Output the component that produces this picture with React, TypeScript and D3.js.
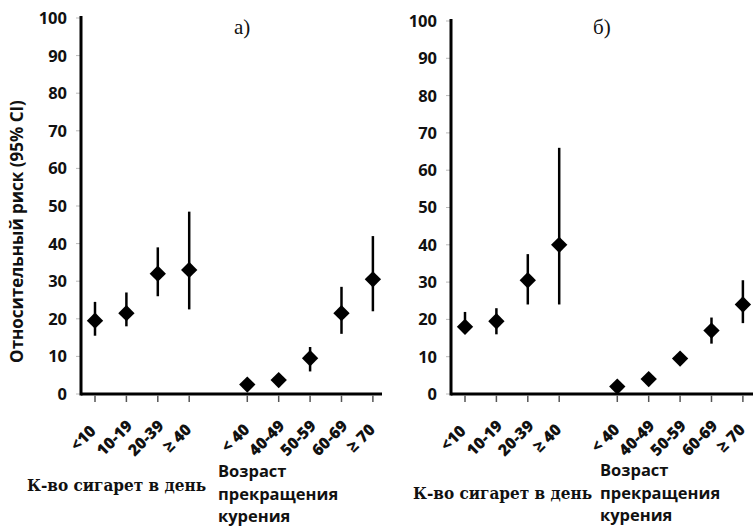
import React from 'react';
import * as d3 from 'd3';

// categories
const cigCats = ['<10', '10-19', '20-39', '≥ 40'];
const ageCats = ['< 40', '40-49', '50-59', '60-69', '≥ 70'];
const yTicks = [0, 10, 20, 30, 40, 50, 60, 70, 80, 90, 100];

// panel а)
const cigRiskA = [19.5, 21.5, 32, 33];
const cigLowA = [15.5, 18, 26, 22.5];
const cigHighA = [24.5, 27, 39, 48.5];
const ageRiskA = [2.5, 3.7, 9.5, 21.5, 30.5];
const ageLowA = [2, 3, 6, 16, 22];
const ageHighA = [3, 4.5, 12.5, 28.5, 42];

// panel б)
const cigRiskB = [18, 19.5, 30.5, 40];
const cigLowB = [16.5, 16, 24, 24];
const cigHighB = [22, 23, 37.5, 66];
const ageRiskB = [2, 4, 9.5, 17, 24];
const ageLowB = [1.5, 3.5, 8.5, 13.5, 19];
const ageHighB = [2.5, 4.5, 10.5, 20.5, 30.5];

const GAP = 1.85; // slot distance between the two groups

interface PanelProps {
  left: number;
  right: number;
  top: number;
  label: string;
  labelX: number;
  showTitle?: boolean;
  cigRisk: number[];
  cigLow: number[];
  cigHigh: number[];
  ageRisk: number[];
  ageLow: number[];
  ageHigh: number[];
  cigTitleX: number;
  cigTitleY: number;
  ageTitleX: number;
  ageTitleY: number;
}

const sans = '"Open Sans", sans-serif';
const serif = '"Liberation Serif", serif';
const boldSerif = '"DejaVu Serif Condensed", "DejaVu Serif", serif';

function Panel(p: PanelProps) {
  const bottom = 394;
  const y = d3.scaleLinear().domain([0, 100]).range([bottom, p.top]);
  const lastIdx = cigCats.length - 1 + GAP + ageCats.length - 1;
  const x = d3.scaleLinear().domain([0, lastIdx]).range([p.left + 14, p.left + 14 + 31.4 * lastIdx]);

  const points = [
    ...cigCats.map((c, i) => ({ cat: c, pos: i, v: p.cigRisk[i], lo: p.cigLow[i], hi: p.cigHigh[i] })),
    ...ageCats.map((c, i) => ({ cat: c, pos: cigCats.length - 1 + GAP + i, v: p.ageRisk[i], lo: p.ageLow[i], hi: p.ageHigh[i] })),
  ];
  const diamond = d3.symbol().type(d3.symbolDiamond2).size(170)();

  return (
    <g>
      {/* y axis */}
      {yTicks.map(t => (
        <g key={t}>
          <line x1={p.left - 5} x2={p.left} y1={y(t)} y2={y(t)} stroke="#bbb" strokeWidth={1} />
          <text x={p.left - 14} y={y(t)} dy="0.36em" textAnchor="end" fontFamily={sans} fontWeight={700} fontSize={16.5} fill="#111">{t}</text>
        </g>
      ))}
      <line x1={p.left} x2={p.left} y1={y(100) - 2} y2={bottom + 1.5} stroke="#000" strokeWidth={3} />
      {/* x axis */}
      <line x1={p.left} x2={p.right} y1={bottom} y2={bottom} stroke="#000" strokeWidth={3} />
      {points.map(d => (
        <g key={d.cat + d.pos}>
          <line x1={x(d.pos)} x2={x(d.pos)} y1={bottom + 1.5} y2={bottom + 8} stroke="#555" strokeWidth={1.5} />
          <g transform={`translate(${x(d.pos) - 12},438)`}>
            <text
              transform="rotate(-45)"
              textAnchor="middle" dy="0.35em"
              fontFamily={sans} fontWeight={800} fontSize={16} fill="#111"
            >{d.cat}</text>
          </g>
        </g>
      ))}
      {/* CI bars and points */}
      {points.map(d => (
        <g key={'p' + d.cat + d.pos}>
          <line x1={x(d.pos)} x2={x(d.pos)} y1={y(d.hi)} y2={y(d.lo)} stroke="#000" strokeWidth={2.5} />
          <path d={diamond} transform={`translate(${x(d.pos)},${y(d.v)})`} fill="#000" />
        </g>
      ))}
      {/* panel label */}
      <text x={p.labelX} y={34} fontFamily={serif} fontSize={21} fill="#111">{p.label}</text>
      {p.showTitle && (
        <text
          transform={`translate(17,${(93 + 370) / 2}) rotate(-90)`}
          textAnchor="middle" dy="0.35em"
          fontFamily={sans} fontWeight={700} fontSize={17} fill="#111"
        >Относительный риск (95% CI)</text>
      )}
      <text x={p.cigTitleX} y={p.cigTitleY} fontFamily={boldSerif} fontWeight={700} fontSize={17}
        style={{ fontStretch: 'condensed' }} fill="#111">К-во сигарет в день</text>
      <text x={p.ageTitleX} y={p.ageTitleY} fontFamily={sans} fontWeight={700} fontSize={16.5} fill="#111">
        <tspan x={p.ageTitleX} dy={0}>Возраст</tspan>
        <tspan x={p.ageTitleX} dy={23}>прекращения</tspan>
        <tspan x={p.ageTitleX} dy={22}>курения</tspan>
      </text>
    </g>
  );
}

export default function App() {
  return (
    <svg width={753} height={526} style={{ position: 'absolute', left: 0, top: 0, background: '#fff' }}>
      <rect width={753} height={526} fill="#fff" />
      <Panel
        left={81} right={382} top={18} label="а)" labelX={234} showTitle
        cigRisk={cigRiskA} cigLow={cigLowA} cigHigh={cigHighA}
        ageRisk={ageRiskA} ageLow={ageLowA} ageHigh={ageHighA}
        cigTitleX={27} cigTitleY={491} ageTitleX={218} ageTitleY={477}
      />
      <Panel
        left={451} right={753} top={21} label="б)" labelX={593}
        cigRisk={cigRiskB} cigLow={cigLowB} cigHigh={cigHighB}
        ageRisk={ageRiskB} ageLow={ageLowB} ageHigh={ageHighB}
        cigTitleX={413} cigTitleY={499} ageTitleX={600} ageTitleY={476}
      />
    </svg>
  );
}
